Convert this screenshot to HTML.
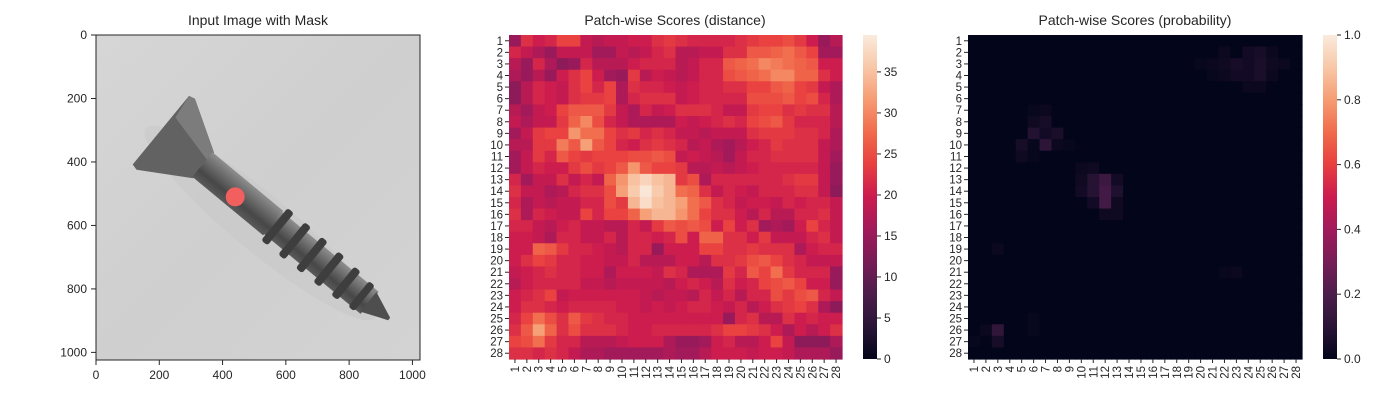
<!DOCTYPE html>
<html><head><meta charset="utf-8"><style>
html,body{margin:0;padding:0;background:#fff;}
svg text{font-family:"Liberation Sans",sans-serif;fill:#262626;}
</style></head><body>
<svg id="fig" width="1400" height="400" viewBox="0 0 1400 400" xmlns="http://www.w3.org/2000/svg">
<defs>
<linearGradient id="bgGrad" x1="0" y1="0" x2="1" y2="1">
<stop offset="0" stop-color="#d6d6d6"/><stop offset="0.5" stop-color="#cfcfcf"/><stop offset="1" stop-color="#d3d3d3"/>
</linearGradient>
<linearGradient id="shaftGrad" x1="0" y1="0" x2="0" y2="1">
<stop offset="0" stop-color="#8e8e8e"/><stop offset="0.35" stop-color="#6a6a6a"/><stop offset="0.7" stop-color="#474747"/><stop offset="1" stop-color="#5a5a5a"/>
</linearGradient>
<linearGradient id="cbGrad" x1="0" y1="1" x2="0" y2="0">
<stop offset="0" stop-color="#03051a"/><stop offset="0.1" stop-color="#2a1436"/><stop offset="0.2" stop-color="#4c1d4b"/><stop offset="0.3" stop-color="#771c56"/><stop offset="0.4" stop-color="#a11a5b"/><stop offset="0.5" stop-color="#cb1b4f"/><stop offset="0.6" stop-color="#e83f3f"/><stop offset="0.7" stop-color="#f06b4b"/><stop offset="0.8" stop-color="#f69c73"/><stop offset="0.9" stop-color="#f8c7a7"/><stop offset="1" stop-color="#faebdd"/>
</linearGradient>
</defs>

<g>
<text x="258" y="25" font-size="14" text-anchor="middle">Input Image with Mask</text>
<svg x="96" y="35" width="324" height="325" viewBox="0 0 1024 1024" preserveAspectRatio="none">
<rect width="1024" height="1024" fill="url(#bgGrad)"/>
<g transform="translate(205,300) rotate(39.5)">
<ellipse cx="430" cy="25" rx="470" ry="90" fill="#c4c4c4" opacity="0.35"/>
<polygon points="0,-140 20,-145 175,-52 175,52 20,145 0,140" fill="#626262"/>
<polygon points="0,-140 20,-145 175,-52 175,-20 10,-60" fill="#7c7c7c"/>
<rect x="170" y="-50" width="290" height="100" fill="url(#shaftGrad)"/>
<rect x="455" y="-45" width="400" height="90" fill="url(#shaftGrad)"/>
<g fill="#3e3e3e">
<rect x="465" y="-66" width="26" height="132" rx="9"/>
<rect x="535" y="-66" width="26" height="132" rx="9"/>
<rect x="605" y="-64" width="26" height="128" rx="9"/>
<rect x="675" y="-62" width="26" height="124" rx="9"/>
<rect x="745" y="-58" width="26" height="116" rx="9"/>
<rect x="810" y="-52" width="24" height="104" rx="9"/>
</g>
<polygon points="850,-40 935,-5 935,5 850,40" fill="#4e4e4e"/>
</g>
<circle cx="440" cy="510" r="30" fill="#f25f5f"/>
</svg>
<rect x="96" y="35" width="324" height="325" fill="none" stroke="#262626" stroke-width="1"/>
<g id="ax1ticks"></g>
</g>

<g id="hm1">
<text x="675" y="25" font-size="14" text-anchor="middle">Patch-wise Scores (distance)</text>
</g>
<g id="hm2">
<text x="1135" y="25" font-size="14" text-anchor="middle">Patch-wise Scores (probability)</text>
</g>
</svg>
<script>
const imgTicks = [0, 200, 400, 600, 800, 1000];
const patchLabels = Array.from({length: 28}, (_, i) => String(i + 1));
const distTicks = [0, 5, 10, 15, 20, 25, 30, 35];
const probTicks = ["0.0", "0.2", "0.4", "0.6", "0.8", "1.0"];
const distMin = 0, distMax = 39.5;
const distScores = [
[15,22,20,21,24,24,19,18,19,19,20,20,22,23,22,21,21,21,21,22,23,24,24,25,23,20,15,18],
[21,19,17,15,19,19,19,16,16,19,18,19,21,22,18,18,19,19,22,22,26,26,27,28,26,24,16,16],
[18,15,21,17,14,15,21,18,18,18,20,21,21,21,18,19,21,21,26,27,28,30,29,28,27,26,20,20],
[17,15,18,15,20,22,24,20,16,15,23,18,20,19,18,19,21,21,25,26,27,28,30,30,27,27,22,20],
[14,18,21,20,19,22,24,21,24,17,22,21,21,20,19,20,21,21,22,22,24,24,26,27,24,23,19,17],
[14,18,21,20,19,22,23,23,24,17,21,22,22,22,19,20,21,21,21,21,25,25,25,26,24,25,21,17],
[18,16,19,20,24,26,26,26,23,19,17,21,19,20,22,22,22,21,19,19,23,24,24,22,23,22,22,18],
[19,17,19,19,23,27,30,25,21,19,17,17,17,17,20,19,20,21,22,21,24,25,26,23,21,21,21,18],
[16,19,23,24,24,31,28,28,24,22,23,21,22,21,19,19,18,19,19,19,22,23,23,23,22,22,21,17],
[18,18,23,23,29,26,32,26,24,21,20,22,23,22,21,18,19,17,16,18,20,21,23,22,22,22,19,17],
[16,19,23,21,26,24,23,24,24,24,25,25,26,25,19,20,19,18,16,19,21,21,22,22,22,22,19,16],
[16,19,21,20,20,23,25,23,24,26,31,26,24,24,23,18,18,19,18,19,20,21,21,21,21,21,19,15],
[21,16,19,19,22,19,21,19,27,31,35,37,35,34,23,25,17,21,21,21,21,21,21,22,23,23,19,15],
[22,19,19,17,18,21,22,22,25,32,36,39,36,34,28,27,22,19,21,20,19,21,21,21,22,22,19,14],
[21,17,19,18,19,19,21,21,25,23,34,38,35,34,32,28,26,22,21,19,20,20,19,21,20,21,21,19],
[22,17,21,20,19,19,24,21,24,24,27,32,34,34,31,28,24,22,22,20,18,21,18,18,21,21,22,19],
[21,21,19,18,20,21,19,19,18,18,21,19,23,26,25,26,25,20,24,20,22,16,17,16,20,24,21,19],
[20,20,19,17,21,21,19,19,21,18,21,21,20,21,25,20,27,27,22,22,20,23,19,19,19,21,22,19],
[20,20,27,26,23,21,21,20,19,18,21,21,15,20,20,20,24,24,22,22,23,22,22,22,17,20,21,21],
[20,22,24,23,21,21,20,20,19,19,21,18,18,18,20,20,18,22,22,23,25,26,24,22,21,19,19,19],
[19,20,21,22,21,21,20,20,17,20,20,20,19,22,21,17,17,17,23,21,26,24,28,23,21,21,21,15],
[18,20,21,21,21,21,19,19,18,19,19,19,19,18,20,21,20,18,22,20,21,24,25,26,24,20,20,15],
[20,21,22,24,19,20,20,20,20,20,20,19,18,19,19,18,21,19,21,18,21,21,25,23,25,26,21,19],
[20,22,22,21,20,21,21,21,21,20,20,19,20,19,20,21,21,20,19,21,18,20,22,23,24,22,17,14],
[21,24,28,25,22,26,23,22,21,21,20,20,20,20,20,20,20,20,15,21,22,18,18,22,20,21,20,20],
[22,26,32,27,22,25,22,22,22,21,20,20,21,21,21,21,21,22,24,24,23,22,20,17,20,18,20,22],
[24,25,28,23,21,21,18,18,18,19,20,20,20,17,15,15,16,20,21,18,18,20,24,19,14,14,14,17],
[22,22,21,22,21,19,17,17,16,16,16,16,16,17,16,16,18,20,20,20,19,20,20,19,17,17,17,15]
];
// sparse non-zero probability cells: [row, col, value] (1-based)
const probCells = [
[2,22,0.02],[2,24,0.04],[2,25,0.05],[2,26,0.02],
[3,20,0.01],[3,21,0.02],[3,22,0.03],[3,23,0.05],[3,24,0.04],[3,25,0.06],[3,26,0.03],[3,27,0.02],
[4,21,0.01],[4,22,0.02],[4,23,0.04],[4,24,0.04],[4,25,0.06],[4,26,0.02],
[5,24,0.02],[5,25,0.02],
[7,6,0.01],[7,7,0.02],
[8,6,0.03],[8,7,0.05],
[9,6,0.08],[9,7,0.04],[9,8,0.06],
[10,5,0.05],[10,6,0.01],[10,7,0.11],[10,8,0.02],[10,9,0.01],
[11,5,0.03],[11,6,0.01],
[12,10,0.02],[12,11,0.03],
[13,10,0.03],[13,11,0.09],[13,12,0.15],[13,13,0.04],
[14,10,0.04],[14,11,0.09],[14,12,0.17],[14,13,0.07],
[15,11,0.04],[15,12,0.17],[15,13,0.03],
[16,12,0.03],[16,13,0.03],
[19,3,0.02],[21,22,0.01],[21,23,0.02],
[25,6,0.01],[26,2,0.02],[26,3,0.12],[26,6,0.01],
[27,1,0.01],[27,3,0.05]
];

const NS = "http://www.w3.org/2000/svg";
const stops = [[0,[3,5,26]],[0.1,[42,20,54]],[0.2,[76,29,75]],[0.3,[119,28,86]],[0.4,[161,26,91]],[0.5,[203,27,79]],[0.6,[232,63,63]],[0.7,[240,107,75]],[0.8,[246,156,115]],[0.9,[248,199,167]],[1,[250,235,221]]];
function rocket(t){
  t = Math.max(0, Math.min(1, t));
  for (let i = 1; i < stops.length; i++) {
    if (t <= stops[i][0]) {
      const a = stops[i-1], b = stops[i], f = (t - a[0]) / (b[0] - a[0]);
      const c = a[1].map((v, k) => Math.round(v + (b[1][k] - v) * f));
      return `rgb(${c[0]},${c[1]},${c[2]})`;
    }
  }
  return "rgb(250,235,221)";
}
function mk(tag, attrs, parent){
  const e = document.createElementNS(NS, tag);
  for (const k in attrs) e.setAttribute(k, attrs[k]);
  parent.appendChild(e);
  return e;
}

const ax1 = document.getElementById('ax1ticks');
const imgX = v => 96 + v / 1024 * 324;
const imgY = v => 35 + v / 1024 * 325;
imgTicks.forEach(v => {
  const x = imgX(v);
  mk('line', {x1:x, y1:360, x2:x, y2:365, stroke:'#262626'}, ax1);
  const t = mk('text', {x:x, y:379, 'font-size':12, 'text-anchor':'middle'}, ax1);
  t.textContent = v;
  
  
  const y = imgY(v);
  mk('line', {x1:91, y1:y, x2:96, y2:y, stroke:'#262626'}, ax1);
  const t2 = mk('text', {x:87, y:y + 4, 'font-size':12, 'text-anchor':'end'}, ax1);
  t2.textContent = v;
  
  
});

function heatmap(g, x0, x1, y0, y1, valueAt, cbX, cbTicks, cbMin, cbMax, name){
  const cw = (x1 - x0) / 28, ch = (y1 - y0) / 28;
  for (let r = 0; r < 28; r++) for (let c = 0; c < 28; c++) {
    const v = valueAt(r, c);
    const rect = mk('rect', {x:x0 + c*cw, y:y0 + r*ch, width:cw + 0.6, height:ch + 0.6, fill:rocket((v - cbMin) / (cbMax - cbMin))}, g);
    
    
  }
  patchLabels.forEach((lab, i) => {
    const cx = x0 + (i + 0.5) * cw, cy = y0 + (i + 0.5) * ch;
    mk('line', {x1:cx, y1:y1, x2:cx, y2:y1 + 4, stroke:'#262626'}, g);
    const tx = mk('text', {x:0, y:0, 'font-size':11.5, 'text-anchor':'end', transform:`translate(${cx + 4},${y1 + 7}) rotate(-90)`}, g);
    tx.textContent = lab;
    
    
    mk('line', {x1:x0 - 4, y1:cy, x2:x0, y2:cy, stroke:'#262626'}, g);
    const ty = mk('text', {x:x0 - 6, y:cy + 4, 'font-size':11.5, 'text-anchor':'end'}, g);
    ty.textContent = lab;
    
    
  });
  const cb = mk('rect', {x:cbX, y:y0, width:14, height:y1 - y0, fill:'url(#cbGrad)'}, g);
  
  
  cbTicks.forEach(tv => {
    const y = y1 - (parseFloat(tv) - cbMin) / (cbMax - cbMin) * (y1 - y0);
    mk('line', {x1:cbX + 14, y1:y, x2:cbX + 18, y2:y, stroke:'#262626'}, g);
    const t = mk('text', {x:cbX + 21, y:y + 4, 'font-size':12}, g);
    t.textContent = tv;
    
    
  });
}
heatmap(document.getElementById('hm1'), 509, 842, 35, 359, (r, c) => distScores[r][c], 863, distTicks, distMin, distMax, 'distance');
const probGrid = Array.from({length: 28}, () => new Array(28).fill(0));
probCells.forEach(([r, c, v]) => { probGrid[r-1][c-1] = v; });
heatmap(document.getElementById('hm2'), 968, 1302, 35, 359, (r, c) => probGrid[r][c], 1323, probTicks, 0, 1, 'probability');
</script>
</body></html>
